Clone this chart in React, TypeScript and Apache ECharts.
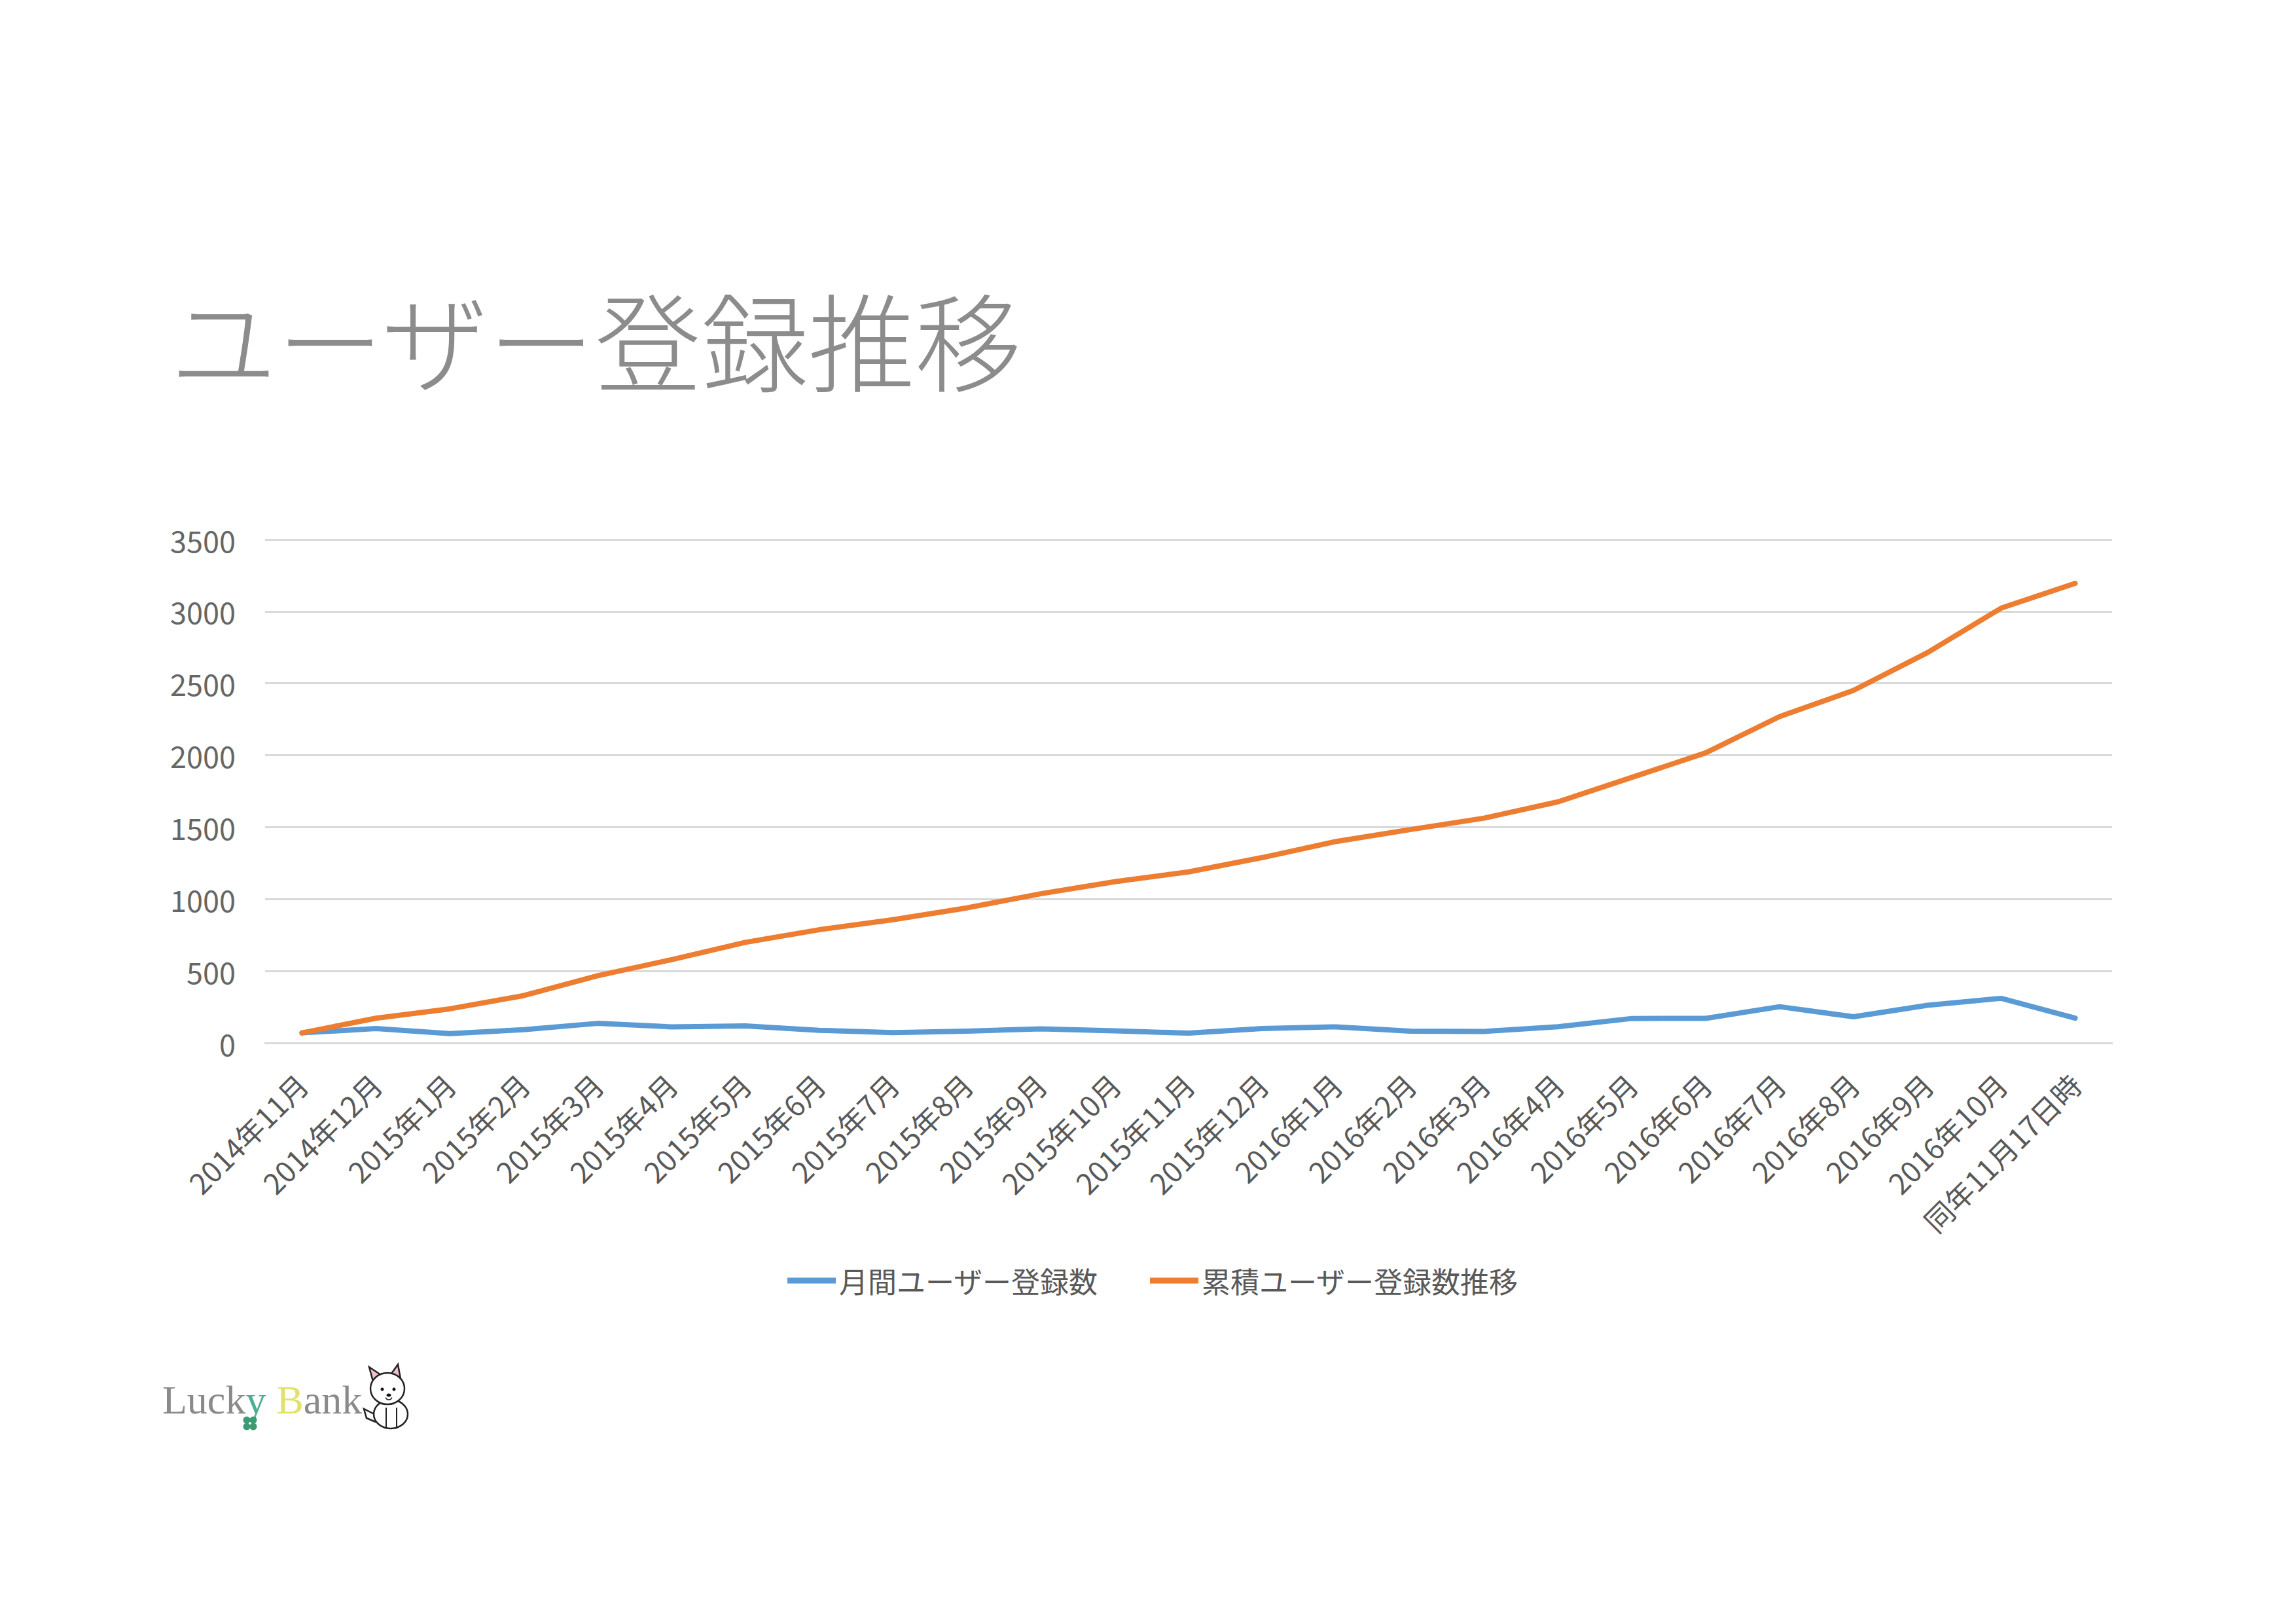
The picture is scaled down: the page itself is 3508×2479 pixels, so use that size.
import React, { useEffect, useRef } from "react";
import * as echarts from "echarts";

const categories = [
  "2014年11月", "2014年12月",
  "2015年1月", "2015年2月", "2015年3月", "2015年4月", "2015年5月", "2015年6月",
  "2015年7月", "2015年8月", "2015年9月", "2015年10月", "2015年11月", "2015年12月",
  "2016年1月", "2016年2月", "2016年3月", "2016年4月", "2016年5月", "2016年6月",
  "2016年7月", "2016年8月", "2016年9月", "2016年10月", "同年11月17日時",
];

const monthlyUsers = [
  70, 100, 65, 92, 136, 112, 118, 88, 72, 82, 98, 84, 68, 100, 112,
  82, 80, 113, 170, 171, 252, 182, 262, 310, 172,
];

const cumulativeUsers = [
  70, 172, 237, 329, 467, 579, 699, 787, 857, 939, 1037, 1121, 1189, 1289, 1401,
  1483, 1563, 1676, 1846, 2017, 2269, 2451, 2713, 3023, 3195,
];

const seriesNames = ["月間ユーザー登録数", "累積ユーザー登録数推移"];
const titleText = "ユーザー登録推移";
const yMin = 0;
const yMax = 3500;
const yInterval = 500;

const JP = "'Noto Sans CJK JP', 'Noto Sans', sans-serif";
const SERIF = "'Liberation Serif', serif";

export default function App() {
  const ref = useRef<HTMLDivElement>(null);

  useEffect(() => {
    if (!ref.current) return;
    const chart = echarts.init(ref.current, null, { renderer: "svg" });
    const dogStroke = { stroke: "#222", lineWidth: 2.5 };
    chart.setOption({
      animation: false,
      backgroundColor: "#ffffff",
      title: {
        text: titleText,
        left: 255,
        top: 428,
        textStyle: {
          fontFamily: JP,
          fontSize: 163,
          fontWeight: 300,
          color: "#8c8c8c",
        },
      },
      grid: { left: 405, right: 281, top: 824, bottom: 886, containLabel: false },
      legend: {
        data: seriesNames,
        left: 1198,
        top: 1929,
        icon: "rect",
        itemWidth: 74,
        itemHeight: 9,
        itemGap: 79,
        textStyle: { fontFamily: JP, fontSize: 44, color: "#595959" },
      },
      xAxis: {
        type: "category",
        data: categories,
        boundaryGap: true,
        axisTick: { show: false },
        axisLine: { lineStyle: { color: "#d9d9d9", width: 3 } },
        axisLabel: {
          interval: 0,
          rotate: 45,
          margin: 55,
          verticalAlign: "middle",
          fontFamily: JP,
          fontSize: 44,
          color: "#595959",
        },
      },
      yAxis: {
        type: "value",
        min: yMin,
        max: yMax,
        interval: yInterval,
        axisLine: { show: false },
        axisTick: { show: false },
        splitLine: { lineStyle: { color: "#d9d9d9", width: 3 } },
        axisLabel: {
          margin: 45,
          fontFamily: JP,
          fontSize: 45,
          color: "#666666",
          formatter: (v: number) => String(v),
        },
      },
      series: [
        {
          name: seriesNames[0],
          type: "line",
          data: monthlyUsers,
          symbol: "none",
          color: "#5B9BD5",
          lineStyle: { width: 8, color: "#5B9BD5", cap: "round", join: "round" },
        },
        {
          name: seriesNames[1],
          type: "line",
          data: cumulativeUsers,
          symbol: "none",
          color: "#ED7D31",
          lineStyle: { width: 8, color: "#ED7D31", cap: "round", join: "round" },
        },
      ],
      graphic: [
        {
          type: "text",
          x: 248,
          y: 2107,
          style: {
            text: "{g|Luck}{y|y}{s|\u00a0}{b|B}{g|ank}",
            verticalAlign: "top",
            rich: {
              g: { fill: "#8a8a8a", fontSize: 62, fontFamily: SERIF },
              y: { fill: "#4fae93", fontSize: 62, fontFamily: SERIF },
              s: { fill: "#8a8a8a", fontSize: 62, fontFamily: SERIF, width: 16 },
              b: { fill: "#e2e26a", fontSize: 62, fontFamily: SERIF },
            },
          },
        },
        // clover
        { type: "circle", shape: { cx: 377, cy: 2169, r: 5.5 }, style: { fill: "#3c9b73" } },
        { type: "circle", shape: { cx: 387, cy: 2169, r: 5.5 }, style: { fill: "#3c9b73" } },
        { type: "circle", shape: { cx: 377, cy: 2179, r: 5.5 }, style: { fill: "#3c9b73" } },
        { type: "circle", shape: { cx: 387, cy: 2179, r: 5.5 }, style: { fill: "#3c9b73" } },
        // dog: tail
        {
          type: "polyline",
          shape: { points: [[572, 2160], [556, 2152], [560, 2166], [574, 2172]] },
          style: { ...dogStroke, fill: "#fff" },
        },
        // body
        { type: "ellipse", shape: { cx: 597, cy: 2160, rx: 26, ry: 22 }, style: { ...dogStroke, fill: "#fff" } },
        // legs
        { type: "line", shape: { x1: 590, y1: 2150, x2: 590, y2: 2180 }, style: { stroke: "#222", lineWidth: 2 } },
        { type: "line", shape: { x1: 606, y1: 2150, x2: 606, y2: 2180 }, style: { stroke: "#222", lineWidth: 2 } },
        // ears
        {
          type: "polygon",
          shape: { points: [[564, 2088], [582, 2100], [570, 2110]] },
          style: { ...dogStroke, fill: "#f0c0c8" },
        },
        {
          type: "polygon",
          shape: { points: [[608, 2084], [612, 2106], [598, 2098]] },
          style: { ...dogStroke, fill: "#f0c0c8" },
        },
        // head
        { type: "ellipse", shape: { cx: 592, cy: 2121, rx: 26, ry: 24 }, style: { ...dogStroke, fill: "#fff" } },
        // eyes & nose
        { type: "circle", shape: { cx: 584, cy: 2122, r: 2.5 }, style: { fill: "#111" } },
        { type: "circle", shape: { cx: 602, cy: 2122, r: 2.5 }, style: { fill: "#111" } },
        { type: "ellipse", shape: { cx: 594, cy: 2131, rx: 3.5, ry: 2.5 }, style: { fill: "#111" } },
        {
          type: "arc",
          shape: { cx: 594, cy: 2133, r: 5, startAngle: 0.3, endAngle: Math.PI - 0.3 },
          style: { stroke: "#222", lineWidth: 1.5, fill: "none" },
        },
      ],
    });
    return () => chart.dispose();
  }, []);

  return (
    <div
      ref={ref}
      style={{ position: "absolute", left: 0, top: 0, width: 3508, height: 2479, background: "#fff" }}
    />
  );
}
